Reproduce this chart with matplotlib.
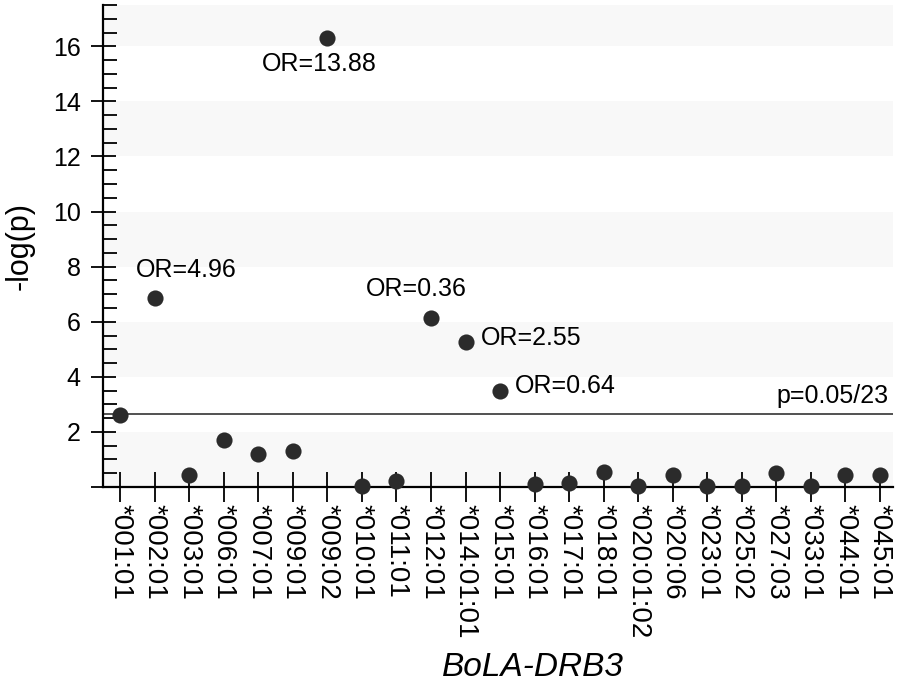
import numpy as np
import matplotlib
matplotlib.use("Agg")
import matplotlib.pyplot as plt
from matplotlib.ticker import FixedLocator, MultipleLocator, FuncFormatter

plt.rcParams['font.family'] = ['Liberation Sans', 'DejaVu Sans']

# alleles and their -log(p)
alleles = ['*001:01', '*002:01', '*003:01', '*006:01', '*007:01', '*009:01', '*009:02',
           '*010:01', '*011:01', '*012:01', '*014:01:01', '*015:01', '*016:01', '*017:01',
           '*018:01', '*020:01:02', '*020:06', '*023:01', '*025:02', '*027:03', '*033:01',
           '*044:01', '*045:01']
neglogp = [2.62, 6.88, 0.45, 1.70, 1.20, 1.30, 16.30,
           0.02, 0.20, 6.13, 5.25, 3.48, 0.10, 0.15,
           0.55, 0.02, 0.45, 0.02, 0.02, 0.50, 0.02,
           0.45, 0.45]

# odds ratio labels: allele index, text, offset in pixels, alignment
or_labels = [
    (6, 'OR=13.88', (-8, -26), 'center'),
    (1, 'OR=4.96', (-19, 28), 'left'),
    (9, 'OR=0.36', (-15, 29), 'center'),
    (10, 'OR=2.55', (15, 4), 'left'),
    (11, 'OR=0.64', (15, 5), 'left'),
]

threshold = -np.log10(0.05 / 23)

fig = plt.figure(figsize=(8.98, 6.91), dpi=100)
ax = fig.add_axes([103 / 898, 1 - 487 / 691, 790 / 898, 482 / 691])

x = np.arange(len(alleles))

# alternating bands
for lo in range(0, 18, 4):
    ax.axhspan(lo, min(lo + 2, 17.5), color='#f8f8f8', zorder=0, lw=0)

ax.axhline(threshold, color='#222222', lw=1.1, zorder=2)
ax.annotate('p=0.05/23', (0.994, threshold), xycoords=ax.get_yaxis_transform(),
            xytext=(0, 6), textcoords='offset pixels',
            ha='right', va='bottom', fontsize=18)

ax.scatter(x, neglogp, s=135, color='#2b2b2b', zorder=3, clip_on=False, lw=0)

for i, txt, off, ha in or_labels:
    ax.annotate(txt, (x[i], neglogp[i]), xytext=off, textcoords='offset pixels',
                ha=ha, va='center', fontsize=18)

ax.set_xlim(-0.5, 22.38)
ax.set_ylim(0, 17.5)

for s in ['top', 'right']:
    ax.spines[s].set_visible(False)
for s in ['left', 'bottom']:
    ax.spines[s].set_linewidth(1.6)

ax.set_xticks(x)
ax.set_xticklabels(alleles, rotation=270, fontsize=20)
ax.tick_params(axis='x', direction='inout', length=21, width=1.3, pad=1.5)

ax.yaxis.set_major_locator(FixedLocator(np.arange(0, 17, 2)))
ax.yaxis.set_major_formatter(FuncFormatter(lambda v, p: '' if v == 0 else '%d' % v))
ax.yaxis.set_minor_locator(MultipleLocator(0.5))
ax.tick_params(axis='y', which='major', direction='inout', length=18, width=1.3,
               labelsize=18, pad=7)
ax.tick_params(axis='y', which='minor', direction='in', length=10, width=1.3)

ax.set_ylabel('-log(p)', fontsize=22)
ax.yaxis.set_label_coords(-0.087, 0.5)
ax.set_xlabel('BoLA-DRB3', fontsize=24, style='italic')
ax.xaxis.set_label_coords(0.544, -0.342)

fig.savefig('out.png', dpi=100)
